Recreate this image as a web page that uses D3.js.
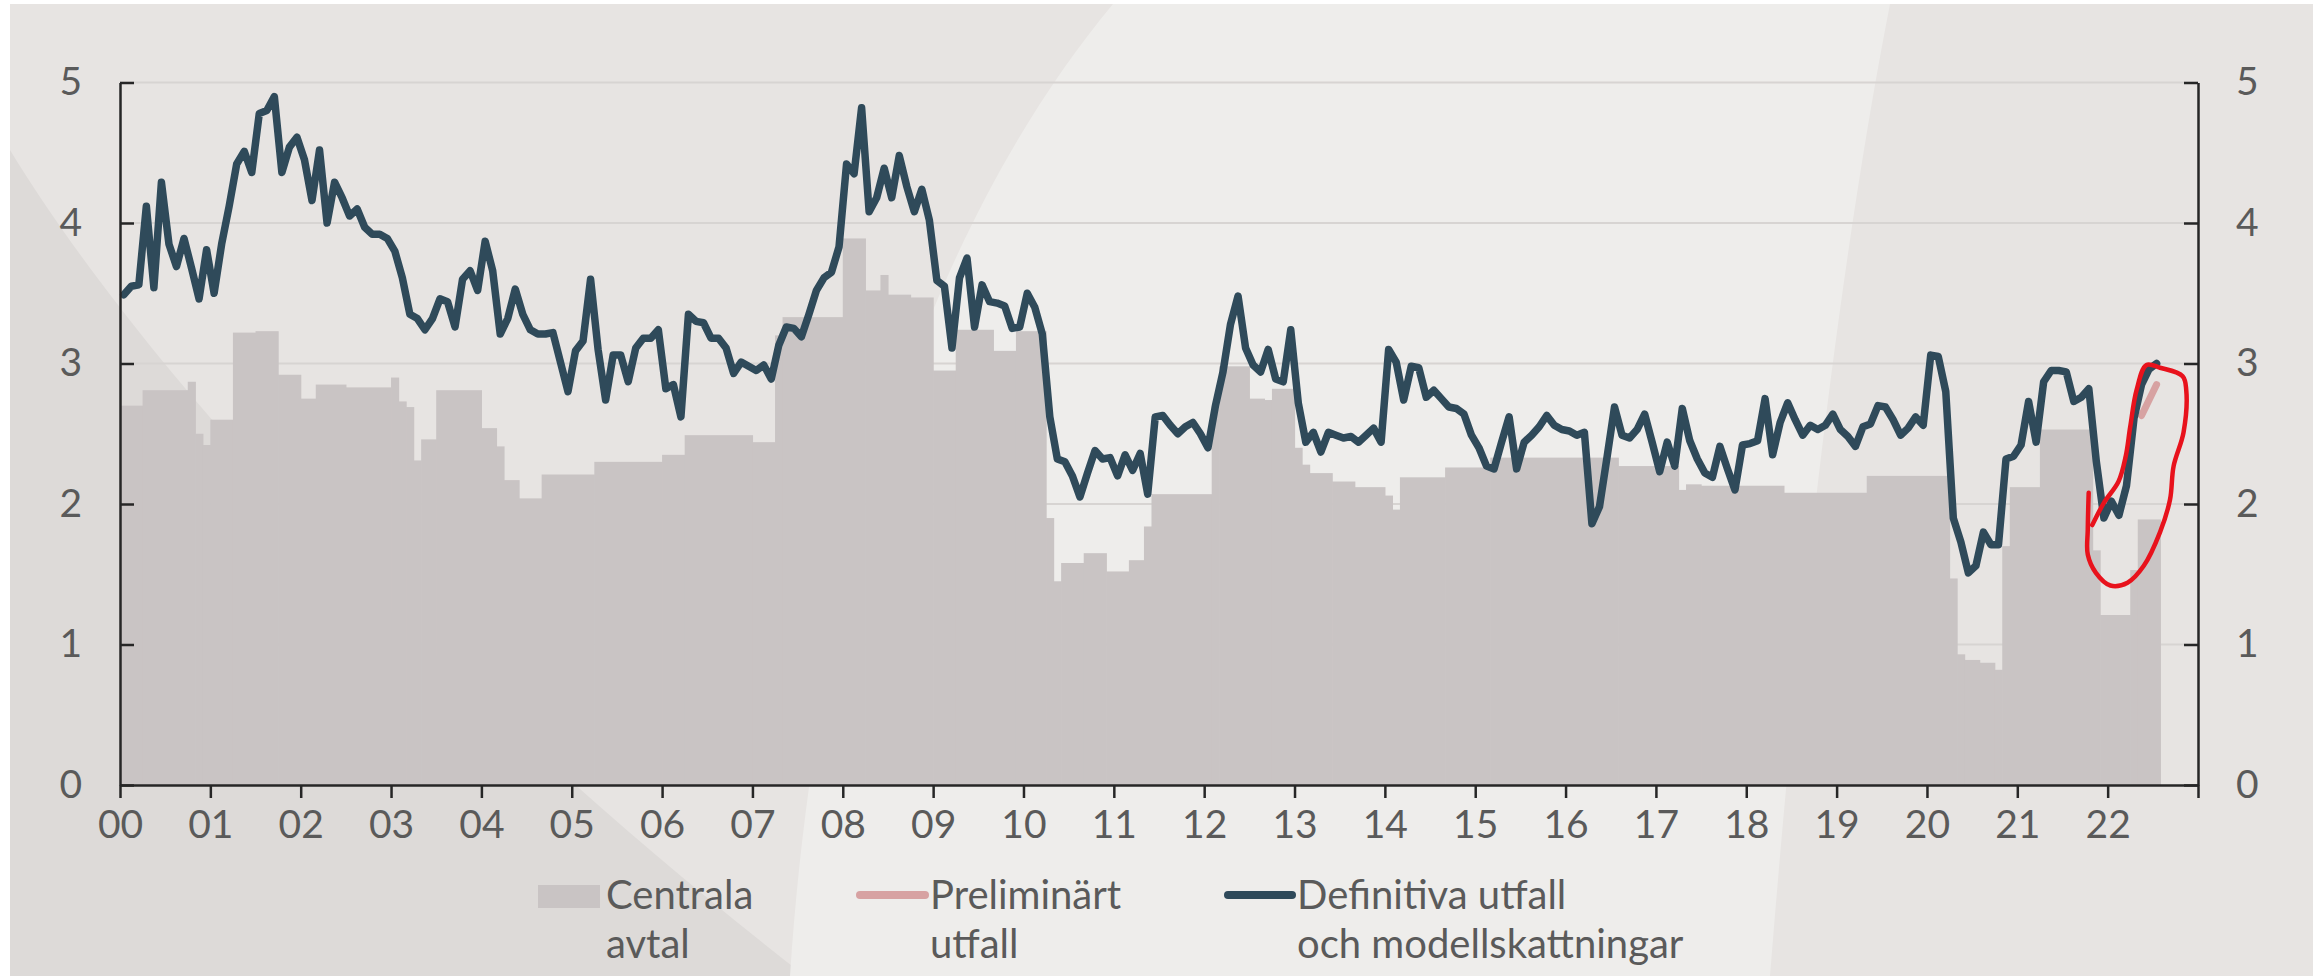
<!DOCTYPE html>
<html><head><meta charset="utf-8">
<script src="https://cdn.jsdelivr.net/npm/d3@7"></script>
<style>html,body{margin:0;padding:0;background:#fff;} svg{display:block;font-family:Lato,'Open Sans',sans-serif;}</style>
</head><body><svg id="c" width="2323" height="976"></svg>
<script>
// ---------- DATA ----------
const yearTicks = d3.range(2000, 2024);          // tick positions (Jan each year)
const yTicks = [0, 1, 2, 3, 4, 5];

// Centrala avtal: step values (start month, value); last step ends at avtalEnd
const avtalStart = ["2000-01","2000-04","2000-10","2000-11","2000-12","2001-01","2001-04","2001-07","2001-10",
  "2002-01","2002-03","2002-07","2003-01","2003-02","2003-03","2003-04","2003-05","2003-07","2004-01","2004-03",
  "2004-04","2004-06","2004-09","2005-04","2006-01","2006-04","2007-01","2007-04","2007-05","2008-01","2008-04",
  "2008-06","2008-07","2008-10","2009-01","2009-04","2009-09","2009-12","2010-04","2010-05","2010-06","2010-09",
  "2010-12","2011-03","2011-05","2011-06","2012-02","2012-03","2012-07","2012-09","2012-10","2013-01","2013-02",
  "2013-03","2013-06","2013-09","2014-01","2014-02","2014-03","2014-09","2015-03","2016-08","2017-04","2017-05",
  "2017-07","2018-06","2019-05","2020-04","2020-05","2020-06","2020-08","2020-10","2020-11","2020-12","2021-04",
  "2021-11","2021-12","2022-04","2022-05"];
const avtalValue = [2.70,2.81,2.87,2.50,2.42,2.60,3.22,3.23,2.92,
  2.75,2.85,2.83,2.90,2.73,2.69,2.31,2.46,2.81,2.54,2.41,
  2.17,2.04,2.21,2.30,2.35,2.49,2.44,3.20,3.33,3.89,3.52,
  3.63,3.49,3.47,2.95,3.24,3.09,3.23,1.90,1.45,1.58,1.65,
  1.52,1.60,1.84,2.07,2.70,2.98,2.75,2.74,2.82,2.40,2.28,
  2.22,2.16,2.12,2.06,1.96,2.19,2.26,2.33,2.27,2.10,2.14,
  2.13,2.08,2.20,1.47,0.93,0.89,0.87,0.82,1.70,2.12,2.53,
  1.67,1.21,1.53,1.89];
const avtalEnd = "2022-08";

// Definitiva utfall och modellskattningar: monthly from 2000-01
const definitivaStart = "2000-01";
const definitiva = [
  3.49,3.55,3.56,4.12,3.54,4.29,3.85,3.69,3.89,3.68,3.46,3.81,
  3.50,3.85,4.12,4.42,4.51,4.36,4.78,4.80,4.90,4.36,4.54,4.61,
  4.45,4.16,4.52,4.00,4.29,4.18,4.05,4.10,3.97,3.92,3.92,3.89,
  3.80,3.61,3.35,3.32,3.24,3.32,3.46,3.44,3.26,3.60,3.66,3.52,
  3.87,3.66,3.21,3.32,3.53,3.35,3.24,3.21,3.21,3.22,3.01,2.80,
  3.09,3.16,3.60,3.10,2.74,3.06,3.06,2.87,3.11,3.18,3.18,3.24,
  2.82,2.85,2.62,3.35,3.30,3.29,3.18,3.18,3.11,2.93,3.01,2.98,
  2.95,2.99,2.89,3.13,3.26,3.25,3.19,3.35,3.52,3.61,3.65,3.83,
  4.42,4.35,4.82,4.08,4.18,4.39,4.18,4.48,4.26,4.08,4.24,4.02,
  3.59,3.55,3.11,3.61,3.75,3.26,3.56,3.44,3.43,3.41,3.25,3.26,
  3.50,3.40,3.21,2.62,2.32,2.30,2.20,2.05,2.22,2.38,2.32,2.33,
  2.20,2.35,2.24,2.36,2.07,2.62,2.63,2.56,2.50,2.55,2.58,2.50,
  2.40,2.70,2.94,3.28,3.48,3.11,2.99,2.94,3.10,2.89,2.87,3.24,
  2.72,2.44,2.51,2.37,2.51,2.49,2.47,2.48,2.44,2.49,2.54,2.44,
  3.10,3.01,2.74,2.98,2.97,2.76,2.81,2.75,2.69,2.68,2.64,2.49,
  2.40,2.27,2.25,2.44,2.62,2.25,2.44,2.49,2.55,2.63,2.56,2.53,
  2.52,2.49,2.51,1.86,1.98,2.33,2.69,2.49,2.47,2.53,2.64,2.44,
  2.23,2.44,2.27,2.68,2.45,2.32,2.22,2.19,2.41,2.25,2.10,2.42,
  2.43,2.45,2.75,2.35,2.58,2.72,2.60,2.49,2.56,2.53,2.56,2.64,
  2.53,2.48,2.41,2.55,2.57,2.70,2.69,2.60,2.49,2.54,2.62,2.56,
  3.06,3.05,2.80,1.90,1.73,1.51,1.56,1.80,1.71,1.71,2.32,2.34,
  2.42,2.73,2.44,2.87,2.95,2.95,2.94,2.73,2.76,2.82,2.30,1.90,
  2.02,1.92,2.13,2.61,2.85,2.96,3.00];

// Preliminärt utfall: monthly from 2022-05
const prelimStart = "2022-05";
const preliminart = [2.63, 2.74, 2.85];

// Hand-drawn red annotation (decimal year, value)
const annotation = [[2021.79,2.08],[2021.78,1.82],[2021.78,1.64],[2021.87,1.51],[2022.03,1.42],[2022.22,1.44],
  [2022.40,1.56],[2022.58,1.80],[2022.69,2.03],[2022.73,2.27],[2022.84,2.51],[2022.87,2.81],[2022.83,2.91],
  [2022.58,2.97],[2022.43,2.99],[2022.32,2.81],[2022.25,2.55],[2022.20,2.34],[2022.12,2.16],[2021.96,2.01],[2021.83,1.85]];

const legendLabels = [["Centrala","avtal"],["Preliminärt","utfall"],["Definitiva utfall","och modellskattningar"]];

// ---------- DRAW ----------
const svg = d3.select("#c");
const ym = s => { const [a,b] = s.split("-").map(Number); return a + (b-1)/12; };
const x = d3.scaleLinear().domain([2000, 2023]).range([120, 2198]);
const y = d3.scaleLinear().domain([0, 5]).range([785, 82.5]);

// background
svg.append("rect").attr("width",2323).attr("height",976).attr("fill","#ffffff");
svg.append("rect").attr("x",10).attr("y",4).attr("width",2303).attr("height",972).attr("fill","#e7e4e2");
svg.append("path").attr("d","M10,150 C150,380 450,700 805,976 L10,976 Z").attr("fill","#dddad8");
svg.append("path").attr("d","M1113,4 C950,200 820,520 790,976 L1770,976 C1800,600 1840,260 1890,4 Z").attr("fill","#eeedeb");

// gridlines
svg.append("g").selectAll("line").data(yTicks.filter(d=>d>0)).join("line")
  .attr("x1",x(2000)).attr("x2",x(2023)).attr("y1",d=>y(d)).attr("y2",d=>y(d))
  .attr("stroke","#d7d4d2").attr("stroke-width",2);

// bars (Centrala avtal)
const steps = avtalStart.map((s,i)=>({s:ym(s), e: ym(i<avtalStart.length-1 ? avtalStart[i+1] : avtalEnd), v: avtalValue[i]}));
svg.append("g").selectAll("rect").data(steps).join("rect")
  .attr("x",d=>x(d.s)).attr("width",d=>x(d.e)-x(d.s)+0.6)
  .attr("y",d=>y(d.v)).attr("height",d=>y(0)-y(d.v)).attr("fill","#c9c4c4");

// lines
const line = d3.line().x(d=>x(d[0])).y(d=>y(d[1]));
const s0 = ym(definitivaStart), p0 = ym(prelimStart);
const defPts = definitiva.map((v,i)=>[s0 + (i+0.5)/12, v]);
const prePts = preliminart.map((v,i)=>[p0 + (i+0.5)/12, v]);
svg.append("path").attr("d",line(prePts)).attr("fill","none").attr("stroke","#d7a2a2").attr("stroke-width",7).attr("stroke-linecap","round").attr("stroke-linejoin","round");
svg.append("path").attr("d",line(defPts)).attr("fill","none").attr("stroke","#2f4a5a").attr("stroke-width",7.5).attr("stroke-linejoin","round").attr("stroke-linecap","round");

// axes
const axStyle = g => { g.selectAll("path,line").attr("stroke","#262626").attr("stroke-width",2.5);
  g.selectAll("text").attr("fill","#5a5a5a").attr("font-size",39).attr("font-family","Lato,'Open Sans',sans-serif"); };
svg.append("g").attr("transform",`translate(${x(2000)},0)`)
  .call(d3.axisLeft(y).tickValues(yTicks).tickSize(-14).tickSizeOuter(0).tickPadding(38).tickFormat(d3.format("d")))
  .call(axStyle);
svg.append("g").attr("transform",`translate(${x(2023)},0)`)
  .call(d3.axisRight(y).tickValues(yTicks).tickSize(-14).tickSizeOuter(0).tickPadding(38).tickFormat(d3.format("d")))
  .call(axStyle);
svg.append("g").attr("transform",`translate(0,${y(0)})`)
  .call(d3.axisBottom(x).tickValues(yearTicks).tickSize(13).tickSizeOuter(0).tickPadding(12)
    .tickFormat(d => d < 2023 ? d3.format("02d")(d % 100) : ""))
  .call(axStyle);
svg.selectAll(".domain").attr("fill","none");

// annotation
svg.append("path").attr("d", d3.line().x(d=>x(d[0])).y(d=>y(d[1])).curve(d3.curveCatmullRom)(annotation))
  .attr("fill","none").attr("stroke","#e8121c").attr("stroke-width",4.5).attr("stroke-linecap","round").attr("stroke-linejoin","round");

// legend
const lg = svg.append("g").attr("font-size",40).attr("fill","#5a5a5a");
lg.append("rect").attr("x",538).attr("y",885).attr("width",62).attr("height",23).attr("fill","#c9c4c4");
lg.append("line").attr("x1",860).attr("x2",925).attr("y1",895).attr("y2",895).attr("stroke","#d7a2a2").attr("stroke-width",8).attr("stroke-linecap","round");
lg.append("line").attr("x1",1228).attr("x2",1292).attr("y1",895).attr("y2",895).attr("stroke","#2f4a5a").attr("stroke-width",8).attr("stroke-linecap","round");
const lx = [606, 930, 1297];
legendLabels.forEach((lab,i)=>{
  lab.forEach((t,j)=> lg.append("text").attr("x",lx[i]).attr("y",909 + j*49).text(t));
});
</script></body></html>
